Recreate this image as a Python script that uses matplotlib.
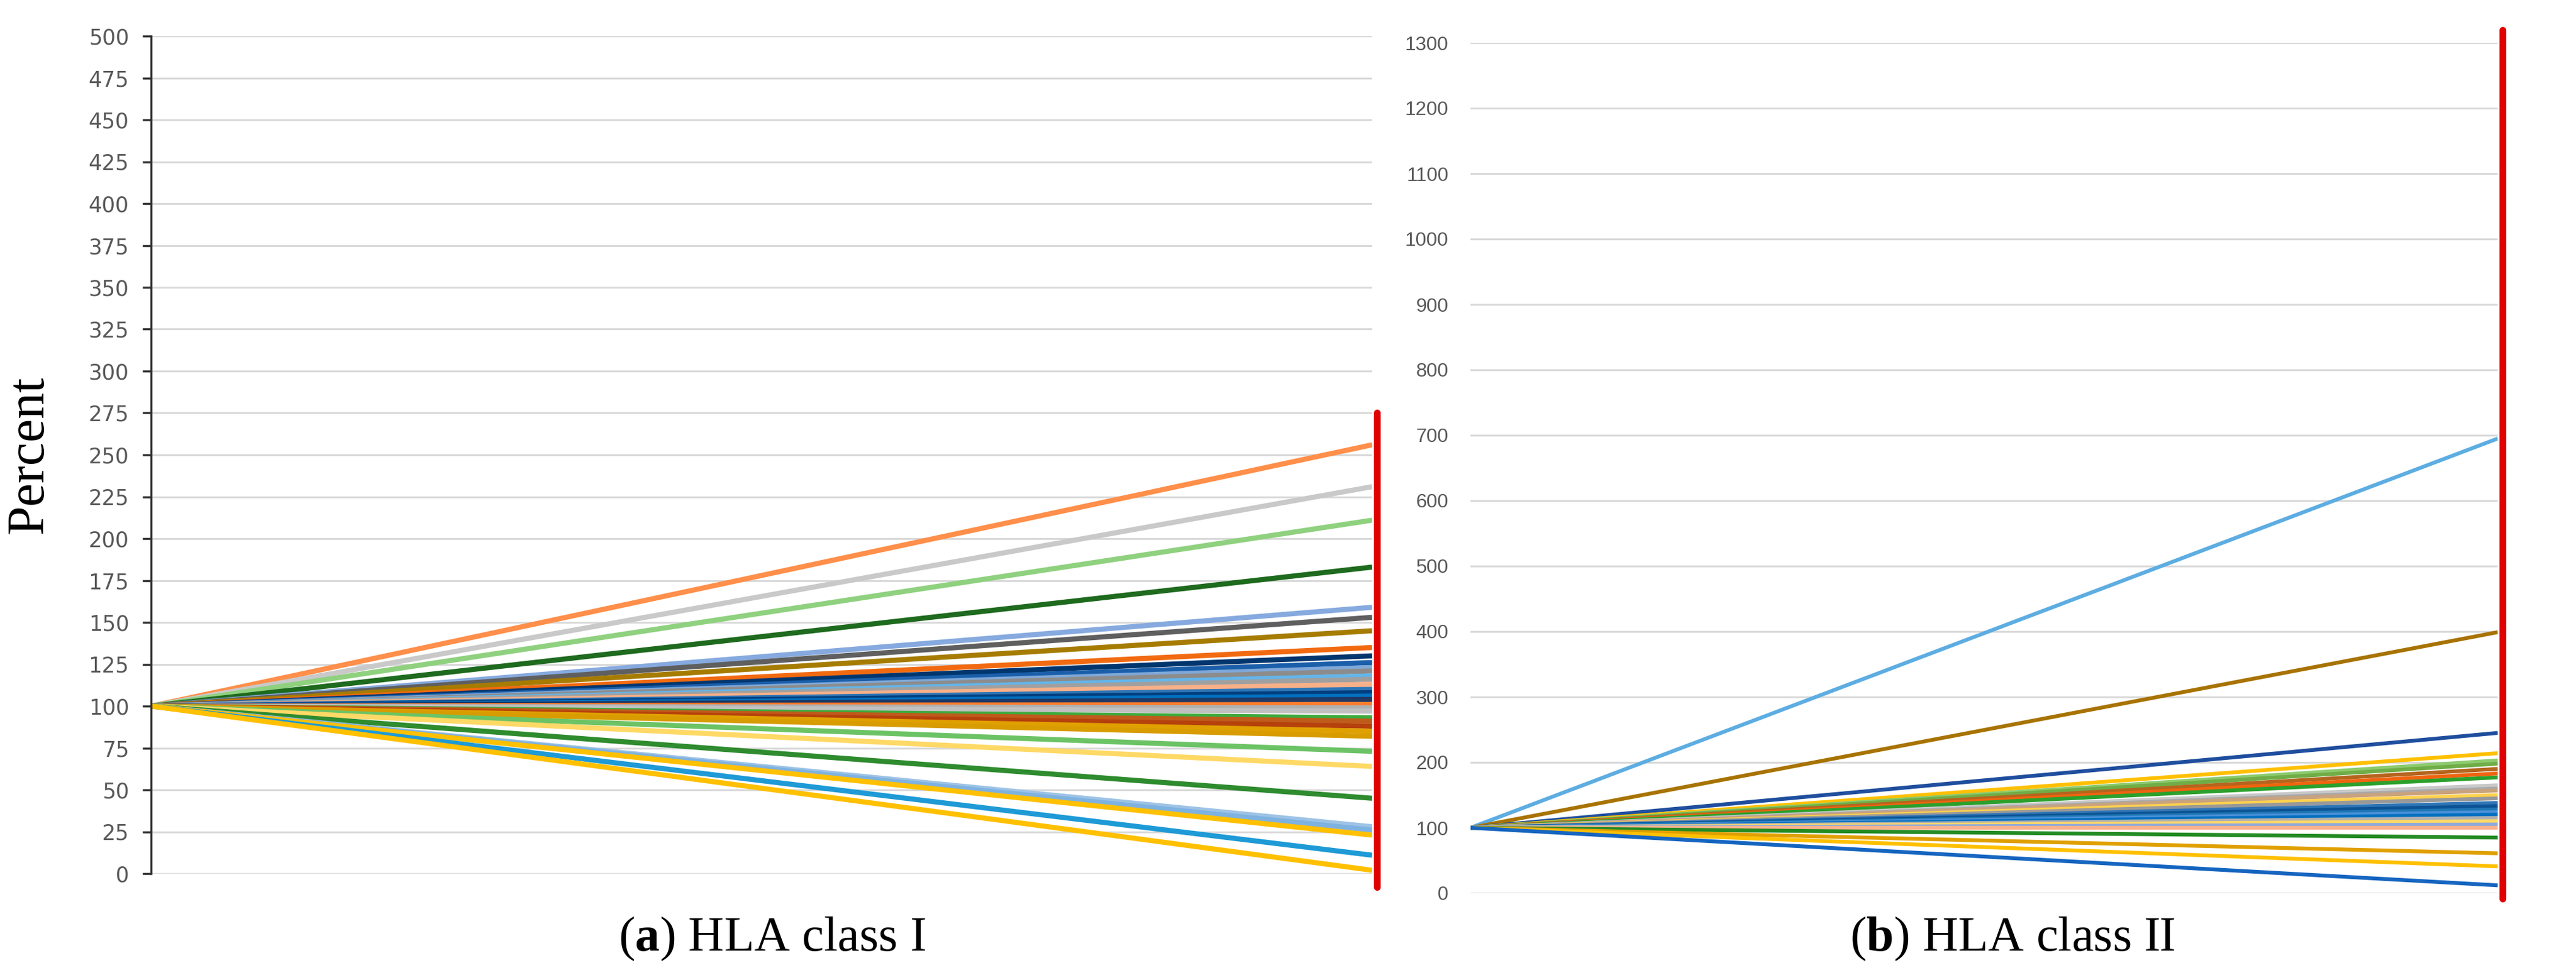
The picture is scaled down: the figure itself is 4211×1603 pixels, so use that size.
import numpy as np
import matplotlib
matplotlib.use("Agg")
import matplotlib.pyplot as plt

plt.rcParams["mathtext.fontset"] = "custom"
plt.rcParams["mathtext.rm"] = "Liberation Serif"
plt.rcParams["mathtext.bf"] = "Liberation Serif:bold"

# ==============================
# Data: every series starts at 100 % and ends at its own value
# ==============================
x_points = [0, 1]

class1_end = [256, 231, 211, 183, 159, 153, 145, 135, 130, 126, 123, 121, 118, 116,
              113, 110, 108, 106, 104, 101, 99, 97, 93, 91, 88, 85, 82, 73, 64, 45,
              28, 26, 23, 11, 2]
class1_colors = ["#FF8F4A", "#C9C9C9", "#8FD17F", "#1E6A1E", "#86AADF", "#5F5F5F",
                 "#A67C00", "#F26A10", "#00366E", "#1B5FAA", "#7FA8D8", "#8C8C8C",
                 "#63B5EA", "#A0A0A0", "#F8B088", "#2E75B6", "#003F7F", "#0070C0",
                 "#1F3864", "#FF7C2B", "#B0B0B0", "#C0C0C0", "#3DAA3D", "#BF5B1B",
                 "#B5410C", "#E0A000", "#D89C00", "#6CC365", "#FFD966", "#2E8B2E",
                 "#9DC3E6", "#7EB2E0", "#FFC000", "#1E9AD6", "#FFC000"]

class2_end = [695, 399, 245, 214, 203, 198, 190, 183, 177, 165, 160, 157, 150, 145,
              138, 133, 128, 124, 120, 115, 110, 105, 100, 85, 61, 41, 12]
class2_colors = ["#5DADE2", "#A87300", "#1F4E9E", "#FFC000", "#8CCB6E", "#70AD47",
                 "#B5651D", "#F0640F", "#2CA02C", "#C8C8C8", "#A9A9A9", "#C9A27E",
                 "#FFD24D", "#999999", "#2E75B6", "#0B5394", "#1F77B4", "#4A90D9",
                 "#0070C0", "#B0B0B0", "#FFD966", "#8EA9DB", "#F9B28F", "#228B22",
                 "#E0A000", "#FFC000", "#1565C0"]

start_value = 100
left_ticks = np.arange(0, 501, 25)
right_ticks = np.arange(0, 1301, 100)

W, H = 4211, 1603
fig = plt.figure(figsize=(W / 100, H / 100), dpi=100)

grid_kw = dict(color="#D9D9D9", linewidth=2.2, zorder=0)

# ==============================
# (a) HLA class I
# ==============================
ax1 = fig.add_axes([247 / W, 1 - 1429 / H, (2243 - 247) / W, (1429 - 59) / H])
for end, col in zip(class1_end, class1_colors):
    ax1.plot(x_points, [start_value, end], color=col, linewidth=6, solid_capstyle="butt",
             zorder=2)
ax1.set_xlim(0, 1)
ax1.set_ylim(0, 500)
ax1.set_yticks(left_ticks)
for t in left_ticks:
    ax1.axhline(t, **grid_kw)
ax1.plot([1.004, 1.004], [-8, 275], color="#E00000", linewidth=8, solid_capstyle="round",
         clip_on=False, zorder=5)
for s in ["top", "right", "bottom"]:
    ax1.spines[s].set_visible(False)
ax1.spines["left"].set_linewidth(2.5)
ax1.spines["left"].set_color("#333333")
ax1.set_xticks([])
ax1.tick_params(axis="y", length=10, width=2.5, color="#333333", pad=16,
                labelsize=25, labelcolor="#595959")
ax1.set_ylabel("Percent", fontsize=62, family="Liberation Serif", labelpad=40)

# ==============================
# (b) HLA class II
# ==============================
ax2 = fig.add_axes([2404 / W, 1 - 1461 / H, (4083 - 2404) / W, (1461 - 70) / H])
for end, col in zip(class2_end, class2_colors):
    ax2.plot(x_points, [start_value, end], color=col, linewidth=4.5, solid_capstyle="butt",
             zorder=2)
ax2.set_xlim(0, 1)
ax2.set_ylim(0, 1300)
ax2.set_yticks(right_ticks)
for t in right_ticks:
    ax2.axhline(t, **grid_kw)
ax2.plot([1.005, 1.005], [-8, 1320], color="#E00000", linewidth=8, solid_capstyle="round",
         clip_on=False, zorder=5)
for s in ax2.spines.values():
    s.set_visible(False)
ax2.set_xticks([])
ax2.tick_params(axis="y", length=0, pad=26, labelsize=23, labelcolor="#595959")
for lab in ax2.get_yticklabels():
    lab.set_family(["Liberation Sans Narrow", "Liberation Sans", "DejaVu Sans"])

# captions
fig.text(1262 / W, 1 - 1536 / H, r"($\mathbf{a}$) HLA class I", ha="center", va="center",
         fontsize=58, family="Liberation Serif")
fig.text(3290 / W, 1 - 1536 / H, r"($\mathbf{b}$) HLA class II", ha="center", va="center",
         fontsize=58, family="Liberation Serif")

fig.savefig("out.png", dpi=100)
